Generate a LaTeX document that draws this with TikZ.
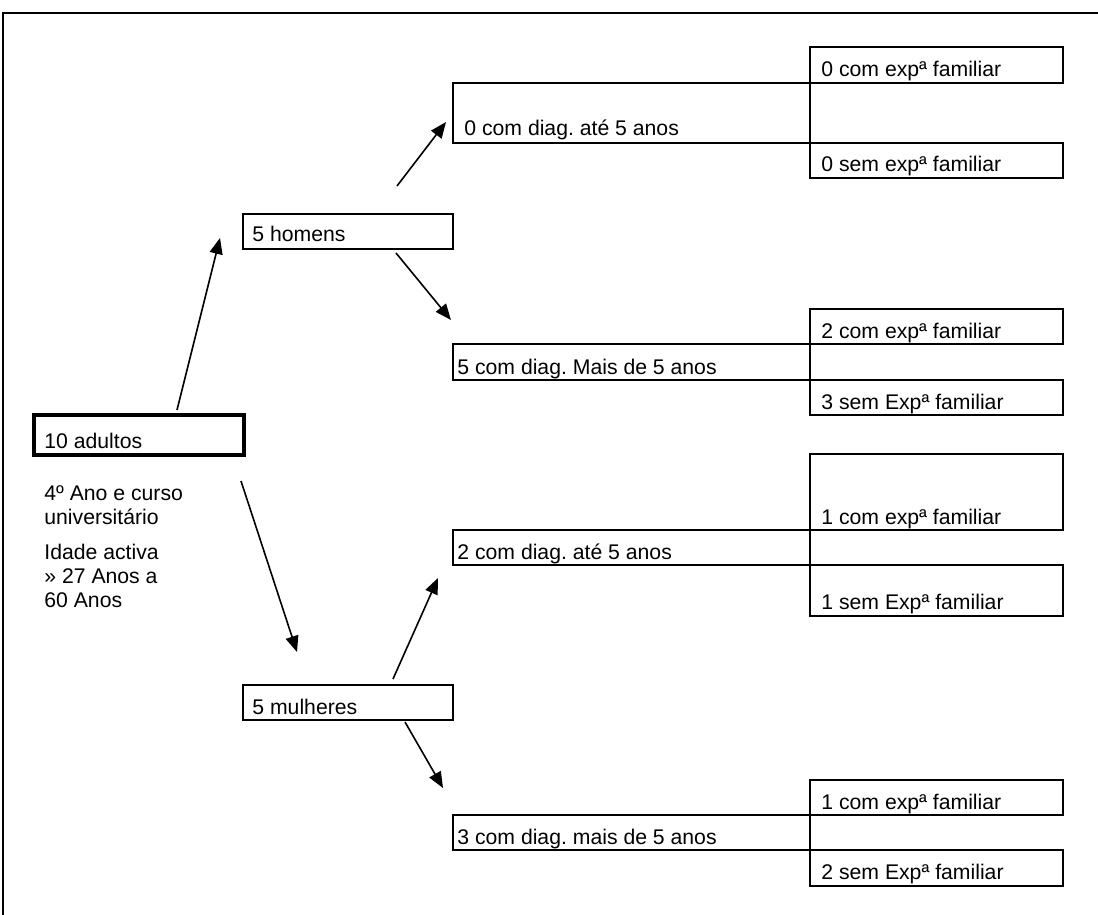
\documentclass[tikz,border=0pt]{standalone}
\usepackage{fontspec}
\setmainfont{Liberation Sans}
\usetikzlibrary{fit,arrows.meta}
\frenchspacing
\begin{document}
\begin{tikzpicture}[x=0.5pt,y=-0.5pt,
  box/.style={draw, line width=1pt, inner sep=0pt},
  thickbox/.style={draw, line width=1.7pt, inner sep=0pt},
  lbl/.style={anchor=base west, inner sep=0pt, font=\fontsize{10.6pt}{12pt}\selectfont},
  arr/.style={line width=0.8pt, -{Triangle[length=8pt,width=6.5pt]}},
  frameline/.style={line width=1pt}]
\useasboundingbox (0,0) rectangle (1098,915);
% outer frame (top and left edges visible)
\draw[frameline] (3,917) -- (3,13) -- (1100,13);

% root
\node[thickbox, fit={(34,415) (244,455)}] (ad) {};
\node[lbl] (adT) at (44,448) {10 adultos};
\node[lbl] (n1) at (44,500) {4º Ano e curso};
\node[lbl] (n2) at (44,524) {universitário};
\node[lbl] (n3) at (44,559) {Idade activa};
\node[lbl] (n4) at (44,583) {» 27 Anos a};
\node[lbl] (n5) at (44,607) {60 Anos};

% second level
\node[box, fit={(243,214) (453,249)}] (hom) {};
\node[lbl] (homT) at (252,242) {5 homens};
\node[box, fit={(243,685) (453,720)}] (mul) {};
\node[lbl] (mulT) at (252,714) {5 mulheres};

% third level
\node[box, fit={(453,83) (810,143)}] (d1) {};
\node[lbl] (d1T) at (464,135) {0 com diag. até 5 anos};
\node[box, fit={(453,344) (810,380)}] (d2) {};
\node[lbl] (d2T) at (457,374) {5 com diag. Mais de 5 anos};
\node[box, fit={(453,530) (810,565)}] (d3) {};
\node[lbl] (d3T) at (457,559) {2 com diag. até 5 anos};
\node[box, fit={(453,815) (810,850)}] (d4) {};
\node[lbl] (d4T) at (457,844) {3 com diag. mais de 5 anos};

% fourth level
\node[box, fit={(810,47) (1063,83)}] (c1) {};
\node[lbl] (c1T) at (821,77) {0 com expª familiar};
\node[box, fit={(810,143) (1063,178)}] (s1) {};
\node[lbl] (s1T) at (821,171) {0 sem expª familiar};
\node[box, fit={(810,309) (1063,344)}] (c2) {};
\node[lbl] (c2T) at (821,338) {2 com expª familiar};
\node[box, fit={(810,380) (1063,415)}] (s2) {};
\node[lbl] (s2T) at (821,409) {3 sem Expª familiar};
\node[box, fit={(810,454) (1063,530)}] (c3) {};
\node[lbl] (c3T) at (821,524) {1 com expª familiar};
\node[box, fit={(810,565) (1063,616)}] (s3) {};
\node[lbl] (s3T) at (821,609) {1 sem Expª familiar};
\node[box, fit={(810,780) (1063,815)}] (c4) {};
\node[lbl] (c4T) at (821,809) {1 com expª familiar};
\node[box, fit={(810,850) (1063,886)}] (s4) {};
\node[lbl] (s4T) at (821,879) {2 sem Expª familiar};

% arrow end points
\coordinate (a1s) at (177,410);
\coordinate (a1e) at (220,238);
\coordinate (a2s) at (241,481);
\coordinate (a2e) at (297,652);
\coordinate (a3s) at (397,186);
\coordinate (a3e) at (446,122);
\coordinate (a4s) at (396,253);
\coordinate (a4e) at (451,320);
\coordinate (a5s) at (393,679);
\coordinate (a5e) at (438,578);
\coordinate (a6s) at (405,722);
\coordinate (a6e) at (443,788);

\draw[arr] (a1s) -- (a1e);
\draw[arr] (a2s) -- (a2e);
\draw[arr] (a3s) -- (a3e);
\draw[arr] (a4s) -- (a4e);
\draw[arr] (a5s) -- (a5e);
\draw[arr] (a6s) -- (a6e);
\end{tikzpicture}
\end{document}
